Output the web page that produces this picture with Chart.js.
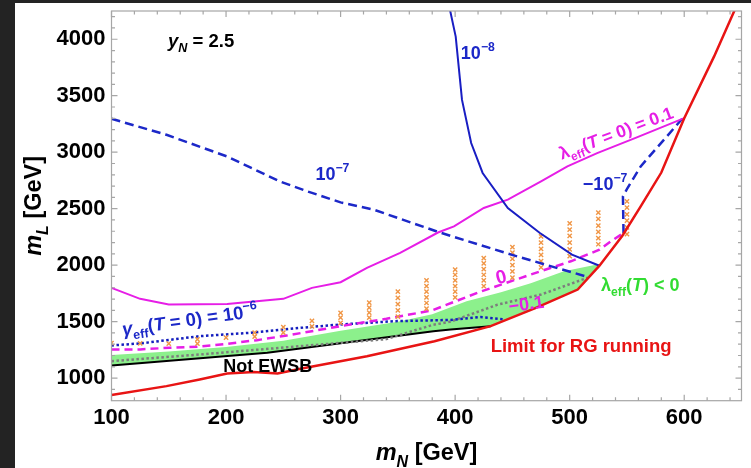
<!DOCTYPE html>
<html><head><meta charset="utf-8">
<script src="https://cdn.jsdelivr.net/npm/chart.js@4.4.1/dist/chart.umd.min.js"></script>
<style>html,body{margin:0;padding:0;background:#222;}canvas{display:block;}</style>
</head><body>
<canvas id="c" width="751" height="468"></canvas>
<script>
// ---- data ----
const xTicks = [100, 200, 300, 400, 500, 600];
const yTicks = [1000, 1500, 2000, 2500, 3000, 3500, 4000];

const redX = [100, 148, 177, 201, 224, 245, 265, 323, 382, 431, 470, 507, 526, 546, 562, 580, 600, 626, 645];
const redY = [850, 929, 988, 1041, 1053, 1041, 1083, 1194, 1327, 1460, 1620, 1784, 1995, 2260, 2520, 2820, 3300, 3846, 4280];

const blueSolidX = [395.5, 400.5, 406, 414, 424, 446, 474, 502, 526];
const blueSolidY = [4260, 4023, 3463, 3081, 2816, 2506, 2285, 2093, 1995];

const blueDashX = [100, 148, 201, 247, 271, 300, 329, 387, 449, 516];
const blueDashY = [3296, 3154, 2962, 2741, 2653, 2556, 2491, 2288, 2093, 1895];

const blueDashNegX = [547, 546.5, 550.5, 562, 567, 597.5, 600];
const blueDashNegY = [2285, 2609, 2683, 2874, 2933, 3287, 3300];

const magSolidX = [100, 125, 150, 201, 250, 275, 300, 323, 352, 385, 399, 425, 446, 475, 498, 524, 557, 600];
const magSolidY = [1799, 1702, 1651, 1657, 1702, 1799, 1849, 1976, 2108, 2289, 2343, 2506, 2580, 2741, 2874, 2992, 3125, 3302];

const magDashX = [100, 125, 151, 175, 201, 227, 253, 300, 340, 380, 422, 466, 501, 526, 536, 547];
const magDashY = [1254, 1254, 1269, 1278, 1304, 1336, 1377, 1460, 1525, 1600, 1765, 1917, 2034, 2137, 2211, 2285];

const gammaX = [100, 125, 177, 221, 265, 300, 347, 396, 422, 443];
const gammaY = [1289, 1307, 1371, 1401, 1445, 1475, 1504, 1515, 1540, 1520];

const grayX = [100, 177, 265, 340, 380, 396, 437, 475, 516];
const grayY = [1150, 1209, 1283, 1345, 1470, 1500, 1650, 1740, 1890];

const blackX = [100, 236, 381, 396, 431];
const blackY = [1112, 1224, 1415, 1430, 1460];

const greenX = [100, 150, 200, 250, 300, 350, 380, 410, 440, 466, 495, 526, 507, 470, 431, 396, 381, 236, 100];
const greenY = [1205, 1235, 1275, 1330, 1420, 1500, 1565, 1680, 1760, 1840, 1945, 2010, 1784, 1620, 1460, 1430, 1415, 1224, 1112];

const crossCols = [100, 125, 150, 175, 200, 225, 250, 275, 300, 325, 350, 375, 400, 425, 450, 475, 500, 525, 550];
const crossRows = [
  [1310], [1308], [1306], [1306, 1342], [1358], [1368, 1402], [1402, 1452], [1458, 1506],
  [1490, 1535, 1578], [1535, 1580, 1625, 1668], [1545, 1600, 1655, 1710, 1765],
  [1615, 1665, 1715, 1765, 1815, 1865], [1715, 1765, 1815, 1865, 1915, 1960],
  [1815, 1865, 1915, 1965, 2015, 2062], [1890, 1945, 2000, 2055, 2110, 2160],
  [1980, 2035, 2090, 2145, 2200, 2255], [2080, 2140, 2200, 2260, 2315, 2370],
  [2185, 2240, 2295, 2350, 2410, 2465], [2275, 2335, 2395, 2450, 2510, 2565]
];

// ---- helpers ----
const pts = (xs, ys) => xs.map((x, i) => ({x: x, y: ys[i]}));
const crossPts = [];
crossCols.forEach((c, i) => crossRows[i].forEach(v => crossPts.push({x: c, y: v})));

const FONT = '"Liberation Sans", Arial, sans-serif';
function fontFor(p, size) {
  const fs = (p.s || p.p) ? size * 0.68 : size;
  return (p.i ? 'italic ' : '') + 'bold ' + fs.toFixed(1) + 'px ' + FONT;
}
function richWidth(ctx, parts, size) {
  let w = 0;
  parts.forEach(p => { ctx.font = fontFor(p, size); w += ctx.measureText(p.t).width; });
  return w;
}
function drawRich(ctx, parts, x, y, o) {
  const size = o.size, ang = (o.angle || 0) * Math.PI / 180;
  ctx.save();
  ctx.translate(x, y);
  ctx.rotate(ang);
  let cx = 0;
  if (o.align === 'center') cx = -richWidth(ctx, parts, size) / 2;
  ctx.textBaseline = 'alphabetic';
  ctx.textAlign = 'left';
  parts.forEach(p => {
    ctx.font = fontFor(p, size);
    ctx.fillStyle = p.c || o.color;
    const dy = p.s ? size * 0.28 : (p.p ? -size * 0.42 : 0);
    ctx.fillText(p.t, cx, dy);
    cx += ctx.measureText(p.t).width;
  });
  ctx.restore();
}

const BLUE = 'rgb(28,40,200)';
const MAG = 'rgb(230,30,230)';
const RED = 'rgb(232,20,20)';
const GREEN_TXT = 'rgb(50,220,50)';

// labels: anchor in data coordinates
const labels = [
  {x: 149.4, y: 3932, size: 18.5, color: '#000', parts: [{t: 'y', i: 1}, {t: 'N', i: 1, s: 1}, {t: ' = 2.5'}]},
  {x: 405, y: 3826, size: 18, color: BLUE, parts: [{t: '10'}, {t: '\u22128', p: 1}]},
  {x: 278, y: 2756, size: 18, color: BLUE, parts: [{t: '10'}, {t: '\u22127', p: 1}]},
  {x: 511.5, y: 2668, size: 18, color: BLUE, parts: [{t: '\u221210'}, {t: '\u22127', p: 1}]},
  {x: 493, y: 2933, size: 17.5, color: MAG, angle: -20.5, parts: [{t: '\u03bb'}, {t: 'eff', s: 1}, {t: '('}, {t: 'T', i: 1}, {t: ' = 0) = 0.1'}]},
  {x: 437, y: 1830, size: 19, color: MAG, angle: -14, parts: [{t: '0'}]},
  {x: 447.5, y: 1581, size: 18, color: MAG, angle: -8, parts: [{t: '\u22120.1'}]},
  {x: 527.4, y: 1775, size: 18, color: GREEN_TXT, parts: [{t: '\u03bb'}, {t: 'eff', s: 1}, {t: '('}, {t: 'T', i: 1}, {t: ') < 0'}]},
  {x: 110, y: 1377, size: 18.5, color: BLUE, angle: -8, parts: [{t: '\u03b3', i: 1}, {t: 'eff', s: 1}, {t: '('}, {t: 'T', i: 1}, {t: ' = 0) = 10'}, {t: '\u22126', p: 1}]},
  {x: 197.5, y: 1050, size: 18, color: '#000', parts: [{t: 'Not EWSB'}]},
  {x: 431, y: 1227, size: 18.5, color: RED, parts: [{t: 'Limit for RG running'}]}
];

const bgPlugin = {
  id: 'bg',
  beforeDraw(chart) {
    const ctx = chart.ctx;
    ctx.save();
    ctx.fillStyle = '#232323';
    ctx.fillRect(0, 0, chart.width, chart.height);
    ctx.fillStyle = '#ffffff';
    ctx.fillRect(15, 3, chart.width - 15, chart.height - 3);
    ctx.restore();
  }
};

const framePlugin = {
  id: 'frame',
  afterDatasetsDraw(chart) {
    const ctx = chart.ctx, a = chart.chartArea;
    const xs = chart.scales.x, ys = chart.scales.y;
    ctx.save();
    labels.forEach(l => drawRich(ctx, l.parts, xs.getPixelForValue(l.x), ys.getPixelForValue(l.y), l));
    ctx.strokeStyle = '#a6a6a6';
    ctx.lineWidth = 1.2;
    ctx.strokeRect(a.left, a.top, a.right - a.left, a.bottom - a.top);
    ctx.beginPath();
    for (let v = 100; v <= 650; v += 20) {
      const p = xs.getPixelForValue(v);
      const L = (v % 100 === 0) ? 6 : 3.5;
      ctx.moveTo(p, a.bottom); ctx.lineTo(p, a.bottom - L);
      ctx.moveTo(p, a.top); ctx.lineTo(p, a.top + L);
    }
    for (let v = 900; v <= 4200; v += 100) {
      const p = ys.getPixelForValue(v);
      const L = (v % 500 === 0) ? 6 : 3.5;
      ctx.moveTo(a.left, p); ctx.lineTo(a.left + L, p);
      ctx.moveTo(a.right, p); ctx.lineTo(a.right - L, p);
    }
    ctx.stroke();
    drawRich(ctx, [{t: 'm', i: 1}, {t: 'N', i: 1, s: 1}, {t: ' [GeV]'}], (a.left + a.right) / 2, 460, {size: 23.5, color: '#000', align: 'center'});
    ctx.save();
    ctx.translate(41, (a.top + a.bottom) / 2);
    drawRich(ctx, [{t: 'm', i: 1}, {t: 'L', i: 1, s: 1}, {t: ' [GeV]'}], 0, 0, {size: 23.5, color: '#000', align: 'center', angle: -90});
    ctx.restore();
    ctx.restore();
  }
};

const line = (xs, ys, color, width, dash, order) => ({
  data: pts(xs, ys), borderColor: color, borderWidth: width, borderDash: dash || [],
  pointRadius: 0, fill: false, order: order, borderCapStyle: 'butt'
});

new Chart(document.getElementById('c'), {
  type: 'line',
  data: {
    datasets: [
      {data: pts(greenX, greenY), borderWidth: 0, borderColor: 'rgba(0,0,0,0)', backgroundColor: 'rgb(140,240,140)', fill: 'shape', pointRadius: 0, order: 20},
      line(blackX, blackY, '#000', 2, null, 15),
      line(grayX, grayY, 'rgb(125,125,125)', 2.5, [2.5, 2.5], 14),
      line(gammaX, gammaY, 'rgb(20,30,190)', 2.5, [2.5, 2.5], 13),
      line(magDashX, magDashY, MAG, 2.5, [8, 5], 12),
      {data: crossPts, showLine: false, pointStyle: 'crossRot', pointRadius: 3, borderColor: 'rgb(240,150,70)', borderWidth: 1.4, order: 11},
      line(blueDashX, blueDashY, BLUE, 2.5, [9, 5], 10),
      line(blueDashNegX, blueDashNegY, BLUE, 2.5, [9, 5], 9),
      line(magSolidX, magSolidY, MAG, 2, null, 8),
      line(blueSolidX, blueSolidY, 'rgb(25,30,195)', 2, null, 7),
      line(redX, redY, RED, 2.5, null, 6)
    ]
  },
  options: {
    responsive: false, animation: false, devicePixelRatio: 1,
    layout: {padding: {left: 0, top: 11, right: 9.5, bottom: 0}},
    plugins: {legend: {display: false}, tooltip: {enabled: false}},
    scales: {
      x: {
        type: 'linear', min: 100, max: 650,
        afterBuildTicks: s => { s.ticks = xTicks.map(v => ({value: v})); },
        afterFit: s => { s.height = 67.3; s.paddingLeft = 0; s.paddingRight = 0; },
        grid: {display: false, drawTicks: false}, border: {display: false},
        ticks: {autoSkip: false, maxRotation: 0, padding: 4, color: '#000', font: {family: FONT, size: 22, weight: 'bold'}, callback: v => String(v)}
      },
      y: {
        type: 'linear', min: 800, max: 4250,
        afterBuildTicks: s => { s.ticks = yTicks.map(v => ({value: v})); },
        afterFit: s => { s.width = 111.5; s.paddingTop = 0; s.paddingBottom = 0; },
        grid: {display: false, drawTicks: false}, border: {display: false},
        ticks: {autoSkip: false, padding: 6, color: '#000', font: {family: FONT, size: 22, weight: 'bold'}, callback: v => String(v)}
      }
    }
  },
  plugins: [bgPlugin, framePlugin]
});
</script>
</body></html>
